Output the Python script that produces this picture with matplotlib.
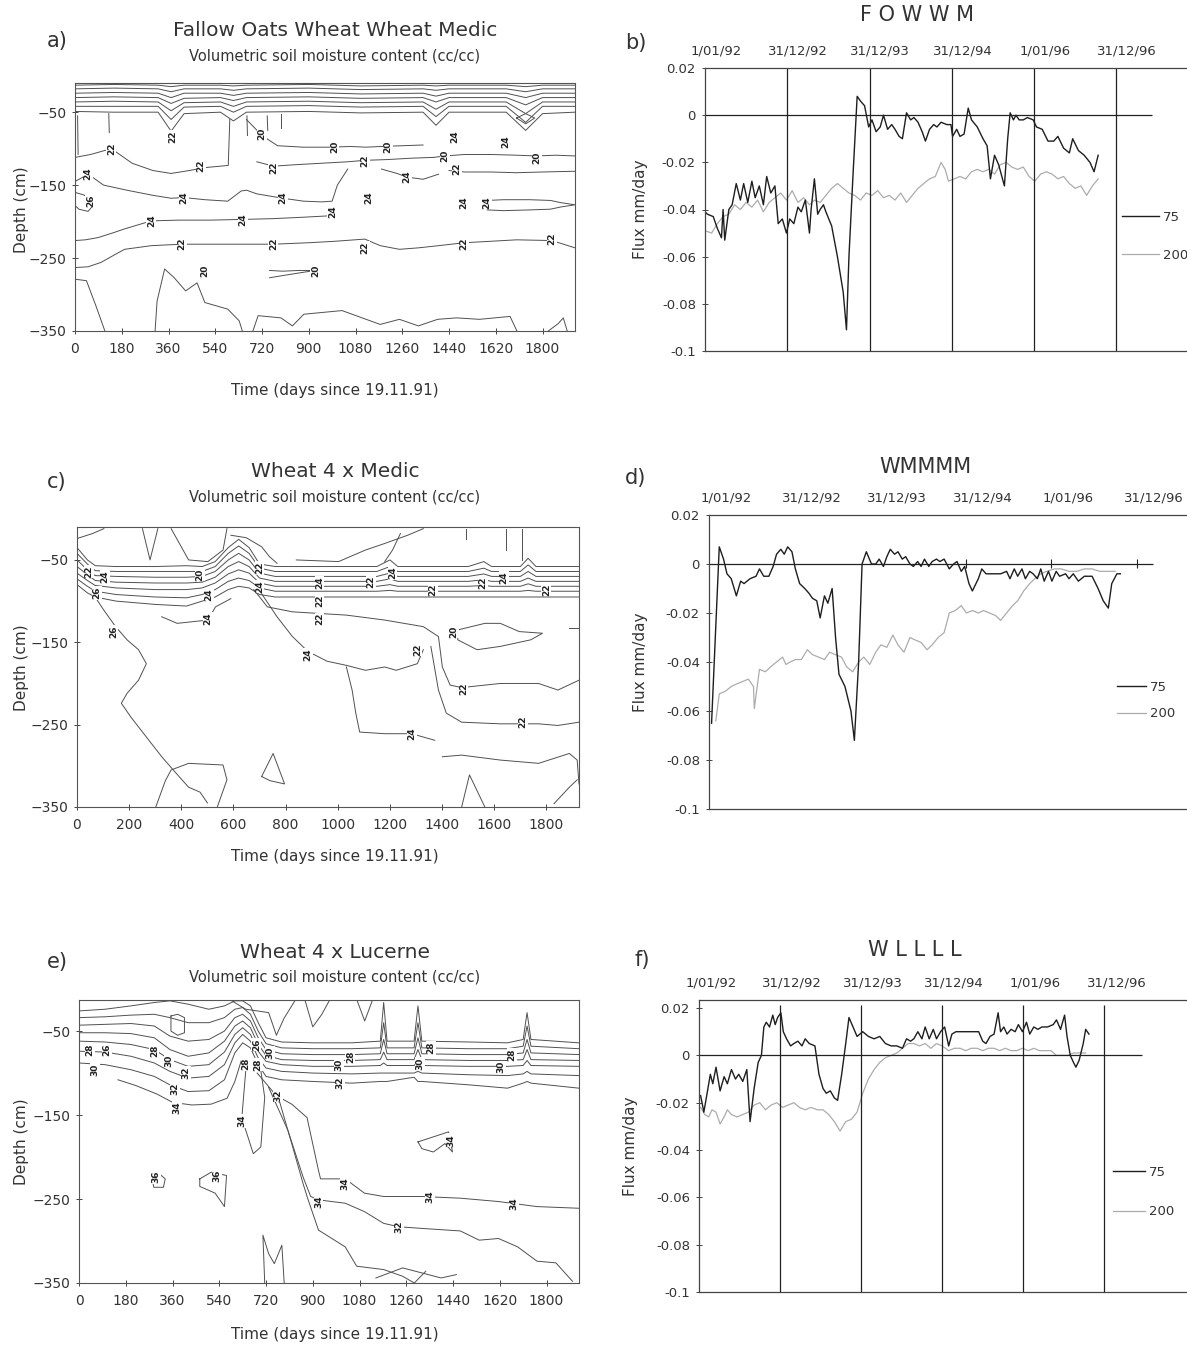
import numpy as np
import matplotlib.pyplot as plt
from matplotlib.ticker import FuncFormatter

plt.rcParams['font.family'] = ['DejaVu Sans']

W, H = 1187, 1347

# ---------------- a) Fallow Oats Wheat Wheat Medic : isolines (day, depth cm) ----------------
a_band_t = [0, 150, 320, 370, 420, 560, 610, 660, 900, 1100, 1340, 1390, 1440, 1660, 1735, 1800, 1925]
a_band = [
    [-13, -12, -13, -15, -13, -13, -14, -13, -12, -14, -13, -14, -13, -13, -15, -13, -13],
    [-18, -17, -18, -22, -18, -18, -20, -18, -17, -19, -18, -20, -18, -18, -22, -18, -18],
    [-24, -23, -24, -30, -24, -24, -27, -24, -23, -25, -24, -28, -24, -24, -30, -24, -24],
    [-30, -29, -30, -38, -31, -30, -34, -30, -29, -31, -30, -36, -30, -30, -40, -30, -30],
    [-36, -35, -36, -48, -37, -36, -42, -36, -35, -37, -36, -46, -36, -36, -52, -36, -36],
    [-42, -42, -42, -60, -43, -42, -50, -42, -41, -43, -42, -56, -42, -42, -64, -42, -42],
    [-49, -50, -50, -76, -52, -50, -62, -50, -49, -51, -50, -68, -50, -50, -75, -52, -50],
]
a_lines = [
    ([0, 60, 140, 220, 300, 370, 440, 500, 560, 590, 596], [-112, -108, -100, -120, -130, -134, -130, -126, -124, -123, -60]),
    ([660, 720, 780, 880, 990, 1060, 1120, 1180, 1260, 1340], [-60, -82, -96, -98, -98, -97, -98, -97, -96, -95]),
    ([700, 764, 850, 950, 1050, 1116, 1200, 1300, 1380], [-118, -124, -122, -120, -118, -116, -115, -113, -112]),
    ([1380, 1425, 1500, 1600, 1700, 1777, 1850, 1925], [-112, -110, -108, -108, -109, -110, -109, -110]),
    ([1440, 1500, 1600, 1700, 1800, 1925], [-130, -132, -132, -133, -132, -131]),
    ([0, 51, 110, 200, 300, 370, 419, 500, 588, 640, 661, 700, 800, 880, 950, 990, 1010, 1050],
     [-145, -135, -150, -157, -164, -168, -167, -170, -172, -158, -157, -162, -168, -172, -173, -172, -150, -128]),
    ([1180, 1240, 1278, 1340, 1400], [-128, -134, -139, -142, -135]),
    ([0, 30, 60, 70, 50, 15, 0], [-160, -163, -168, -178, -186, -183, -178]),
    ([0, 40, 88, 150, 191, 294, 400, 520, 646, 760, 880, 984], [-226, -225, -222, -215, -210, -199, -198, -198, -197, -196, -194, -192]),
    ([0, 50, 100, 150, 191, 294, 411, 550, 650, 764, 900, 1000, 1116, 1175, 1249, 1322, 1400, 1498, 1600, 1700, 1836, 1925],
     [-263, -262, -256, -246, -238, -233, -231, -231, -231, -231, -229, -227, -224, -233, -238, -236, -233, -229, -227, -225, -226, -236]),
    ([1587, 1650, 1750, 1830, 1870, 1925, 1870, 1830, 1750, 1650, 1587], [-171, -170, -170, -171, -174, -177, -180, -183, -184, -185, -184]),
    ([749, 800, 860, 925, 870, 800, 749], [-267, -268, -267, -267, -270, -274, -277]),
    ([0, 44, 80, 117], [-279, -281, -315, -352]),
    ([308, 316, 345, 382, 426, 470, 500, 588, 632, 646], [-352, -309, -265, -277, -295, -284, -311, -320, -336, -352]),
    ([683, 705, 793, 837, 881, 1028, 1175, 1249, 1322, 1396, 1469, 1557, 1675, 1704],
     [-352, -329, -332, -343, -327, -322, -341, -334, -343, -334, -332, -334, -330, -352]),
    ([1822, 1860, 1880, 1895], [-350, -340, -332, -350]),
    ([1700, 1735, 1770, 1735, 1700], [-58, -52, -58, -66, -58]),
    ([130, 132], [-52, -78]), ([662, 664], [-55, -82]), ([740, 742], [-55, -75]),
    ([795, 795], [-52, -72]), ([10, 12], [-55, -108]),
]
a_labels = [
    ("22", 375, -84), ("22", 140, -100), ("22", 485, -123), ("22", 764, -126),
    ("20", 720, -80), ("20", 999, -98), ("20", 1205, -98), ("24", 1462, -84), ("24", 1660, -91),
    ("22", 1116, -116), ("20", 1425, -110), ("22", 1469, -128), ("20", 1777, -112),
    ("24", 1278, -139), ("24", 51, -135), ("26", 59, -171), ("24", 419, -167), ("24", 800, -167),
    ("24", 1131, -167), ("24", 294, -199), ("24", 646, -197), ("24", 991, -187),
    ("24", 1498, -174), ("24", 1587, -174), ("22", 411, -231), ("22", 764, -231),
    ("22", 1116, -236), ("22", 1498, -231), ("22", 1836, -224), ("20", 500, -268), ("20", 925, -268),
]

# ---------------- c) Wheat 4 x Medic ----------------
c_band_t = [0, 40, 70, 150, 300, 420, 480, 530, 580, 620, 660, 700, 760, 900, 1150, 1200, 1230, 1500, 1560, 1590, 1700, 1730, 1760, 1925]
c_band = [
    [-35, -50, -57, -58, -58, -57, -58, -52, -35, -25, -35, -55, -58, -58, -58, -50, -58, -58, -52, -58, -58, -48, -58, -58],
    [-42, -55, -63, -64, -64, -64, -64, -58, -42, -33, -42, -60, -64, -64, -64, -58, -64, -64, -60, -64, -64, -56, -64, -64],
    [-50, -62, -69, -70, -71, -71, -70, -64, -50, -42, -50, -66, -70, -70, -70, -66, -70, -70, -67, -70, -70, -64, -70, -70],
    [-58, -68, -75, -77, -78, -78, -77, -71, -58, -52, -58, -72, -76, -76, -76, -73, -76, -76, -74, -76, -76, -72, -76, -76],
    [-66, -75, -81, -84, -86, -86, -84, -78, -67, -62, -66, -78, -82, -82, -82, -80, -82, -82, -81, -82, -82, -79, -82, -82],
    [-73, -82, -88, -92, -95, -96, -92, -86, -76, -72, -75, -84, -88, -88, -88, -87, -88, -88, -88, -88, -88, -87, -88, -88],
    [-80, -90, -95, -100, -104, -106, -100, -95, -86, -82, -84, -92, -95, -95, -95, -95, -95, -95, -95, -95, -95, -95, -95, -95],
]
c_lines = [
    ([0, 59, 103], [-24, -18, -12]),
    ([251, 280, 310], [-12, -50, -12]),
    ([361, 428, 502, 560, 575], [-12, -50, -52, -38, -12]),
    ([590, 649, 708, 738, 767], [-20, -23, -34, -46, -54]),
    ([841, 1003, 1106, 1180, 1268, 1328], [-50, -52, -38, -30, -20, -12]),
    ([1180, 1210, 1240], [-52, -38, -18]),
    ([1490, 1490], [-12, -25]), ([1645, 1645], [-12, -38]), ([1705, 1705], [-12, -50]),
    ([59, 103, 148, 192, 236, 266, 236, 192, 170, 207, 266, 325, 369, 428, 472, 500],
     [-90, -111, -131, -147, -159, -176, -196, -212, -224, -241, -265, -289, -305, -326, -332, -345]),
    ([302, 339, 361, 428, 560, 575, 538], [-350, -318, -305, -297, -299, -317, -350]),
    ([708, 752, 796, 740, 708], [-313, -285, -322, -318, -313]),
    ([325, 384, 443, 502, 531, 590], [-119, -127, -125, -123, -107, -97]),
    ([678, 730, 826, 929, 1033, 1180, 1328, 1386, 1401, 1431, 1475, 1623, 1770, 1844, 1925],
     [-86, -107, -113, -115, -117, -123, -131, -143, -180, -202, -205, -200, -200, -208, -196]),
    ([708, 767, 826, 885, 959, 1033, 1106, 1180, 1224, 1305, 1328], [-91, -119, -143, -161, -173, -178, -184, -180, -184, -176, -159]),
    ([1033, 1055, 1069, 1084, 1180, 1283, 1372], [-180, -208, -236, -259, -261, -261, -269]),
    ([1357, 1386, 1416, 1475, 1623, 1711, 1770, 1844, 1925], [-155, -208, -236, -247, -249, -249, -249, -251, -247]),
    ([1460, 1564, 1623, 1696, 1785, 1740, 1623, 1534, 1460, 1460], [-135, -127, -127, -137, -139, -147, -155, -159, -147, -135]),
    ([1888, 1925], [-133, -133]),
    ([1401, 1475, 1623, 1770, 1888, 1918, 1925], [-289, -287, -293, -297, -285, -293, -322]),
    ([1475, 1505, 1564], [-350, -311, -350]),
    ([1829, 1888, 1918], [-346, -326, -317]),
]
c_labels = [
    ("22", 45, -64), ("26", 75, -90), ("24", 108, -70), ("26", 140, -137),
    ("20", 470, -68), ("24", 505, -92), ("24", 502, -121),
    ("22", 700, -60), ("24", 700, -82), ("24", 930, -78), ("22", 930, -100), ("22", 930, -122),
    ("22", 1128, -76), ("24", 1210, -66), ("22", 1364, -86), ("22", 1556, -78), ("24", 1637, -72), ("22", 1800, -86),
    ("24", 885, -165), ("20", 1445, -137), ("22", 1305, -159), ("22", 1482, -206), ("22", 1711, -247), ("24", 1283, -261),
]

# ---------------- e) Wheat 4 x Lucerne ----------------
e_band_t = [0, 100, 200, 290, 350, 420, 500, 560, 600, 630, 660, 690, 720, 780, 900, 1050, 1160, 1173, 1186, 1290, 1305, 1320, 1500, 1650, 1710, 1725, 1740, 1925]
e_band = [
    [-26, -24, -20, -16, -14, -18, -24, -20, -14, -14, -20, -40, -58, -63, -64, -64, -62, -16, -62, -62, -20, -62, -63, -64, -60, -28, -60, -64],
    [-34, -33, -31, -30, -34, -40, -40, -34, -24, -22, -30, -50, -65, -70, -71, -71, -70, -40, -70, -70, -40, -70, -71, -71, -68, -44, -68, -71],
    [-43, -42, -41, -44, -56, -62, -60, -50, -34, -30, -38, -58, -72, -77, -78, -78, -77, -60, -77, -77, -58, -77, -78, -78, -76, -60, -76, -78],
    [-52, -52, -53, -58, -72, -80, -76, -62, -44, -38, -46, -66, -79, -84, -85, -85, -84, -75, -84, -84, -72, -84, -85, -85, -84, -72, -84, -85],
    [-62, -63, -66, -72, -84, -92, -90, -75, -54, -46, -54, -74, -86, -90, -92, -92, -91, -88, -91, -91, -86, -91, -92, -92, -91, -85, -91, -92],
    [-74, -75, -80, -88, -98, -106, -104, -90, -64, -54, -62, -82, -94, -98, -100, -101, -100, -100, -100, -100, -98, -100, -102, -103, -101, -98, -101, -103],
    [-88, -90, -96, -104, -114, -122, -121, -108, -76, -64, -70, -90, -104, -108, -110, -112, -110, -110, -110, -105, -110, -110, -114, -118, -112, -110, -112, -118],
]
e_lines = [
    ([150, 220, 300, 361, 435, 509, 570, 600, 625], [-108, -115, -125, -135, -138, -137, -130, -110, -85]),
    ([354, 380, 406, 406, 380, 354, 354], [-32, -30, -34, -52, -55, -50, -32]),
    ([583, 642, 730, 760, 789, 833], [-13, -24, -28, -55, -35, -13]),
    ([870, 900, 935, 965], [-13, -45, -30, -13]),
    ([1070, 1100, 1130], [-13, -38, -13]),
    ([686, 760, 819, 878, 922, 930, 1025, 1099, 1173, 1320, 1468, 1615, 1763, 1925],
     [-100, -127, -137, -153, -216, -226, -226, -243, -247, -247, -249, -253, -259, -261]),
    ([730, 804, 863, 892, 922, 1025, 1099, 1173, 1231, 1320, 1468, 1541, 1615, 1689, 1763, 1836, 1900],
     [-117, -168, -224, -247, -251, -255, -265, -279, -283, -285, -288, -299, -297, -307, -324, -326, -348]),
    ([760, 819, 863, 878, 922, 1025, 1069, 1173, 1246, 1291], [-121, -184, -232, -247, -287, -307, -330, -334, -342, -350]),
    ([642, 627, 642, 671, 700, 715, 700], [-97, -153, -168, -196, -188, -129, -97]),
    ([280, 302, 332, 325, 288, 280], [-224, -218, -226, -236, -236, -224]),
    ([465, 509, 568, 560, 524, 465, 465], [-226, -218, -222, -259, -243, -235, -226]),
    ([1305, 1364, 1423, 1438, 1409, 1364, 1320, 1305], [-182, -176, -170, -194, -184, -194, -190, -182]),
    ([715, 708, 730, 752, 781, 790], [-350, -293, -315, -327, -305, -350]),
    ([1143, 1246, 1320, 1394, 1453], [-344, -332, -338, -344, -340]),
    ([1291, 1335], [-350, -336]),
]
e_labels = [
    ("28", 42, -72), ("30", 60, -96), ("26", 108, -72), ("28", 290, -74), ("30", 345, -86),
    ("32", 413, -100), ("32", 369, -119), ("34", 378, -141), ("28", 642, -89), ("26", 683, -66),
    ("28", 690, -90), ("30", 735, -76), ("32", 767, -127), ("34", 627, -157),
    ("28", 1045, -80), ("30", 1000, -90), ("32", 1004, -112), ("30", 1313, -89), ("28", 1355, -70),
    ("30", 1623, -93), ("28", 1667, -78), ("34", 1431, -180), ("36", 295, -224), ("36", 531, -222),
    ("34", 922, -253), ("34", 1025, -232), ("32", 1231, -283), ("34", 1350, -247), ("34", 1674, -255),
]

# ---------------- flux series (years since 1/01/92, mm/day) ----------------
date_labels = ["1/01/92", "31/12/92", "31/12/93", "31/12/94", "1/01/96", "31/12/96"]
year_marks = [0, 1, 2, 3, 4, 5]

b_yr75 = [0.00, 0.03, 0.10, 0.15, 0.20, 0.22, 0.24, 0.29, 0.33, 0.38, 0.43, 0.47, 0.52, 0.57, 0.61, 0.66, 0.71, 0.75, 0.80, 0.85,
          0.89, 0.94, 0.99, 1.03, 1.08, 1.13, 1.17, 1.22, 1.27, 1.29, 1.33, 1.37, 1.40, 1.44, 1.47, 1.54, 1.61, 1.68, 1.72, 1.75,
          1.80, 1.85, 1.89, 1.94, 1.99, 2.03, 2.08, 2.13, 2.17, 2.22, 2.27, 2.31, 2.36, 2.40, 2.45, 2.50, 2.54, 2.59, 2.64, 2.68,
          2.73, 2.78, 2.82, 2.87, 2.94, 2.99, 3.01, 3.06, 3.10, 3.15, 3.20, 3.24, 3.31, 3.38, 3.43, 3.47, 3.52, 3.57, 3.64, 3.68,
          3.71, 3.75, 3.78, 3.82, 3.87, 3.92, 3.99, 4.03, 4.10, 4.17, 4.24, 4.29, 4.36, 4.43, 4.47, 4.54, 4.61, 4.68, 4.73, 4.78]
b_f75 = [-0.041, -0.042, -0.043, -0.048, -0.052, -0.040, -0.053, -0.040, -0.038, -0.029,
         -0.036, -0.029, -0.037, -0.028, -0.035, -0.030, -0.038, -0.026, -0.033, -0.030,
         -0.046, -0.044, -0.050, -0.044, -0.046, -0.039, -0.041, -0.036, -0.050, -0.040,
         -0.027, -0.042, -0.040, -0.038, -0.041, -0.047, -0.060, -0.075, -0.091, -0.060,
         -0.025, 0.008, 0.006, 0.004, -0.005, -0.002, -0.007, -0.005, 0.000, -0.006,
         -0.004, -0.006, -0.009, -0.010, 0.001, -0.002, -0.001, -0.003, -0.007, -0.011,
         -0.006, -0.004, -0.005, -0.003, -0.004, -0.004, -0.009, -0.006, -0.009, -0.008,
         0.003, -0.002, -0.005, -0.010, -0.013, -0.027, -0.017, -0.021, -0.030, -0.010,
         0.001, -0.002, 0.000, -0.002, -0.002, -0.001, -0.002, -0.005, -0.006, -0.011,
         -0.011, -0.009, -0.014, -0.016, -0.010, -0.015, -0.017, -0.020, -0.024, -0.017]
b_yr200 = [0.00, 0.08, 0.15, 0.22, 0.29, 0.36, 0.43, 0.50, 0.57, 0.64, 0.71, 0.78, 0.85, 0.92, 0.99, 1.06, 1.13, 1.20, 1.27, 1.33,
           1.40, 1.47, 1.54, 1.61, 1.68, 1.75, 1.82, 1.89, 1.96, 2.03, 2.10, 2.17, 2.24, 2.31, 2.38, 2.45, 2.52, 2.59, 2.66, 2.73,
           2.80, 2.87, 2.92, 2.96, 3.03, 3.10, 3.17, 3.24, 3.31, 3.38, 3.45, 3.52, 3.59, 3.66, 3.73, 3.80, 3.87, 3.94, 4.01, 4.08,
           4.15, 4.22, 4.29, 4.36, 4.43, 4.50, 4.57, 4.64, 4.71, 4.78]
b_f200 = [-0.049, -0.050, -0.046, -0.043, -0.042, -0.038, -0.040, -0.037, -0.039, -0.036,
          -0.041, -0.037, -0.035, -0.033, -0.036, -0.032, -0.037, -0.035, -0.038, -0.036,
          -0.037, -0.034, -0.031, -0.029, -0.031, -0.033, -0.034, -0.036, -0.033, -0.034,
          -0.032, -0.035, -0.034, -0.036, -0.033, -0.037, -0.034, -0.031, -0.029, -0.027,
          -0.026, -0.020, -0.023, -0.028, -0.027, -0.026, -0.027, -0.024, -0.023, -0.024,
          -0.023, -0.025, -0.021, -0.020, -0.022, -0.023, -0.022, -0.026, -0.028, -0.025,
          -0.024, -0.025, -0.027, -0.026, -0.029, -0.031, -0.030, -0.034, -0.030, -0.027]

d_yr75 = [0.03, 0.12, 0.17, 0.21, 0.26, 0.32, 0.37, 0.41, 0.48, 0.55, 0.59, 0.64, 0.70, 0.75, 0.79, 0.84, 0.88, 0.92, 0.97, 1.01,
          1.06, 1.12, 1.17, 1.21, 1.26, 1.30, 1.35, 1.39, 1.44, 1.48, 1.52, 1.59, 1.66, 1.70, 1.75, 1.79, 1.84, 1.90, 1.95, 1.99,
          2.04, 2.08, 2.12, 2.17, 2.21, 2.26, 2.30, 2.35, 2.39, 2.44, 2.48, 2.52, 2.57, 2.61, 2.66, 2.70, 2.75, 2.81, 2.86, 2.90,
          2.95, 2.99, 3.04, 3.08, 3.15, 3.19, 3.24, 3.32, 3.41, 3.48, 3.52, 3.57, 3.61, 3.66, 3.70, 3.75, 3.79, 3.84, 3.88, 3.92,
          3.97, 4.01, 4.06, 4.10, 4.17, 4.21, 4.26, 4.32, 4.39, 4.48, 4.55, 4.61, 4.67, 4.71, 4.77, 4.81]
d_f75 = [-0.065, 0.007, 0.002, -0.004, -0.006, -0.013, -0.007, -0.008, -0.006, -0.005,
         -0.002, -0.005, -0.005, -0.001, 0.004, 0.006, 0.004, 0.007, 0.005, -0.002,
         -0.008, -0.010, -0.012, -0.014, -0.015, -0.022, -0.013, -0.016, -0.010, -0.030,
         -0.045, -0.050, -0.060, -0.072, -0.040, 0.000, 0.005, 0.000, 0.000, 0.002,
         -0.001, 0.003, 0.006, 0.004, 0.005, 0.002, 0.003, 0.000, -0.001, 0.001,
         -0.001, 0.002, -0.001, 0.001, 0.002, 0.001, 0.002, -0.002, 0.000, 0.001,
         -0.003, -0.001, -0.008, -0.011, -0.006, -0.002, -0.004, -0.004, -0.004, -0.003,
         -0.006, -0.002, -0.005, -0.002, -0.006, -0.003, -0.004, -0.006, -0.002, -0.007,
         -0.003, -0.007, -0.003, -0.005, -0.004, -0.006, -0.004, -0.007, -0.005, -0.005,
         -0.010, -0.015, -0.018, -0.008, -0.004, -0.004]
d_yr200 = [0.08, 0.12, 0.19, 0.26, 0.32, 0.39, 0.46, 0.52, 0.53, 0.59, 0.66, 0.72, 0.79, 0.86, 0.90, 0.95, 1.01, 1.08, 1.15, 1.21,
           1.28, 1.35, 1.41, 1.48, 1.55, 1.61, 1.68, 1.75, 1.81, 1.88, 1.95, 2.01, 2.08, 2.15, 2.21, 2.28, 2.35, 2.41, 2.48, 2.55,
           2.61, 2.68, 2.75, 2.81, 2.88, 2.95, 3.01, 3.08, 3.15, 3.21, 3.28, 3.35, 3.41, 3.48, 3.55, 3.61, 3.68, 3.75, 3.81, 3.88,
           3.95, 4.04, 4.12, 4.21, 4.30, 4.39, 4.48, 4.57, 4.66, 4.75]
d_f200 = [-0.064, -0.053, -0.052, -0.050, -0.049, -0.048, -0.047, -0.050, -0.059, -0.043,
          -0.044, -0.042, -0.040, -0.038, -0.041, -0.040, -0.039, -0.039, -0.035, -0.037,
          -0.038, -0.039, -0.036, -0.037, -0.038, -0.042, -0.044, -0.040, -0.038, -0.041,
          -0.036, -0.033, -0.034, -0.029, -0.033, -0.036, -0.030, -0.031, -0.032, -0.035,
          -0.033, -0.030, -0.028, -0.020, -0.019, -0.017, -0.020, -0.019, -0.020, -0.019,
          -0.020, -0.021, -0.023, -0.020, -0.017, -0.015, -0.011, -0.008, -0.006, -0.004,
          -0.003, -0.002, -0.002, -0.003, -0.003, -0.002, -0.002, -0.003, -0.003, -0.003]

f_yr75 = [0.02, 0.06, 0.09, 0.14, 0.17, 0.21, 0.26, 0.31, 0.35, 0.40, 0.45, 0.49, 0.54, 0.59, 0.63, 0.68, 0.73, 0.77, 0.80, 0.83,
          0.87, 0.91, 0.94, 0.97, 1.01, 1.04, 1.08, 1.13, 1.17, 1.22, 1.27, 1.31, 1.36, 1.43, 1.48, 1.53, 1.57, 1.62, 1.67, 1.71,
          1.76, 1.81, 1.85, 1.90, 1.95, 2.02, 2.09, 2.16, 2.23, 2.30, 2.37, 2.44, 2.51, 2.56, 2.61, 2.65, 2.70, 2.75, 2.79, 2.84,
          2.89, 2.93, 2.98, 3.03, 3.08, 3.12, 3.17, 3.24, 3.31, 3.38, 3.45, 3.50, 3.54, 3.59, 3.64, 3.69, 3.72, 3.76, 3.80, 3.85,
          3.90, 3.94, 3.99, 4.04, 4.08, 4.13, 4.18, 4.23, 4.30, 4.37, 4.41, 4.46, 4.51, 4.54, 4.58, 4.62, 4.65, 4.69, 4.74, 4.77, 4.81]
f_f75 = [-0.017, -0.024, -0.018, -0.008, -0.012, -0.005, -0.015, -0.009, -0.012, -0.006,
         -0.010, -0.008, -0.011, -0.006, -0.028, -0.014, -0.003, 0.000, 0.012, 0.014,
         0.012, 0.017, 0.013, 0.016, 0.018, 0.010, 0.007, 0.004, 0.005, 0.006,
         0.004, 0.007, 0.005, 0.004, -0.008, -0.014, -0.016, -0.015, -0.018, -0.019,
         -0.008, 0.005, 0.016, 0.012, 0.008, 0.010, 0.008, 0.007, 0.008, 0.005,
         0.004, 0.004, 0.003, 0.007, 0.006, 0.007, 0.010, 0.007, 0.012, 0.007,
         0.011, 0.007, 0.010, 0.012, 0.004, 0.009, 0.010, 0.010, 0.010, 0.010,
         0.010, 0.006, 0.005, 0.008, 0.009, 0.018, 0.010, 0.012, 0.009, 0.011,
         0.010, 0.013, 0.010, 0.014, 0.009, 0.012, 0.011, 0.012, 0.012, 0.013,
         0.015, 0.011, 0.017, 0.008, 0.000, -0.003, -0.005, -0.002, 0.005, 0.011, 0.009]
f_yr200 = [0.02, 0.07, 0.12, 0.16, 0.21, 0.26, 0.31, 0.35, 0.40, 0.47, 0.54, 0.61, 0.68, 0.75, 0.82, 0.89, 0.96, 1.03, 1.10, 1.17,
           1.24, 1.31, 1.38, 1.46, 1.53, 1.60, 1.67, 1.74, 1.81, 1.88, 1.95, 2.02, 2.09, 2.16, 2.23, 2.30, 2.37, 2.44, 2.51, 2.58,
           2.65, 2.72, 2.79, 2.86, 2.93, 3.00, 3.08, 3.15, 3.22, 3.29, 3.36, 3.43, 3.50, 3.57, 3.64, 3.71, 3.78, 3.85, 3.92, 3.99,
           4.06, 4.13, 4.20, 4.27, 4.34, 4.41, 4.48, 4.55, 4.62, 4.69, 4.77]
f_f200 = [-0.022, -0.025, -0.026, -0.023, -0.024, -0.029, -0.026, -0.023, -0.025, -0.026,
          -0.025, -0.024, -0.021, -0.020, -0.023, -0.021, -0.020, -0.022, -0.021, -0.020,
          -0.022, -0.023, -0.022, -0.023, -0.023, -0.025, -0.028, -0.032, -0.028, -0.027,
          -0.024, -0.016, -0.010, -0.006, -0.003, -0.001, 0.000, 0.001, 0.003, 0.005,
          0.005, 0.004, 0.005, 0.003, 0.005, 0.004, 0.002, 0.003, 0.003, 0.002,
          0.003, 0.003, 0.002, 0.003, 0.003, 0.002, 0.003, 0.002, 0.002, 0.003,
          0.002, 0.003, 0.002, 0.002, 0.002, 0.000, 0.000, 0.000, 0.001, 0.001, 0.001]

flux_ticks = [0.02, 0, -0.02, -0.04, -0.06, -0.08, -0.1]

LINE = '#505050'
TXT = '#333333'


def px(x, y):
    return x / W, 1 - y / H


def box(l, t, r, b):
    return [l / W, 1 - b / H, (r - l) / W, (b - t) / H]


fig = plt.figure(figsize=(W / 100, H / 100), dpi=100)
fig.patch.set_facecolor('white')


def contour_panel(rect, band_t, band, lines, labels, xticks, ytop, title, letter, ty, cx=335):
    ax = fig.add_axes(rect)
    for d in band:
        ax.plot(band_t, d, color=LINE, lw=0.7)
    for t, d in lines:
        ax.plot(t, d, color=LINE, lw=0.7)
    for s, t, d in labels:
        ax.text(t, d, s, rotation=90, fontsize=6.5, fontweight='bold', color='#222222',
                ha='center', va='center', clip_on=True,
                bbox=dict(facecolor='white', edgecolor='none', pad=0.3))
    ax.set_xlim(0, 1925)
    ax.set_ylim(-350, ytop)
    ax.set_xticks(xticks)
    ax.set_yticks([-50, -150, -250, -350])
    ax.tick_params(direction='inout', length=4, width=0.7, colors='#444444',
                   labelcolor=TXT, labelsize=10, pad=4)
    ax.tick_params(axis='x', pad=6)
    for s in ax.spines.values():
        s.set_color('#555555')
        s.set_linewidth(0.8)
    fig.text(*px(cx, ty), title, ha='center', va='center', fontsize=14.5, color=TXT)
    fig.text(*px(cx, ty + 25), 'Volumetric soil moisture content (cc/cc)', ha='center', va='center',
             fontsize=10.5, color=TXT)
    fig.text(*px(57, ty + 10), letter, ha='center', va='center', fontsize=15, color=TXT)
    return ax


ax_a = contour_panel(box(75, 83, 575, 331), a_band_t, a_band, a_lines, a_labels,
                     [0, 180, 360, 540, 720, 900, 1080, 1260, 1440, 1620, 1800], -10,
                     'Fallow Oats Wheat Wheat Medic', 'a)', 31)
fig.text(*px(335, 390), 'Time (days since 19.11.91)', ha='center', va='center', fontsize=11, color=TXT)
fig.text(*px(22, 210), 'Depth (cm)', rotation=90, ha='center', va='center', fontsize=11, color=TXT)

ax_c = contour_panel(box(77, 527, 579, 807), c_band_t, c_band, c_lines, c_labels,
                     [0, 200, 400, 600, 800, 1000, 1200, 1400, 1600, 1800], -10,
                     'Wheat 4 x Medic', 'c)', 472)
fig.text(*px(335, 856), 'Time (days since 19.11.91)', ha='center', va='center', fontsize=11, color=TXT)
fig.text(*px(22, 668), 'Depth (cm)', rotation=90, ha='center', va='center', fontsize=11, color=TXT)

ax_e = contour_panel(box(79, 1000, 579, 1283), e_band_t, e_band, e_lines, e_labels,
                     [0, 180, 360, 540, 720, 900, 1080, 1260, 1440, 1620, 1800], -13,
                     'Wheat 4 x Lucerne', 'e)', 952)
fig.text(*px(335, 1335), 'Time (days since 19.11.91)', ha='center', va='center', fontsize=11, color=TXT)
fig.text(*px(22, 1142), 'Depth (cm)', rotation=90, ha='center', va='center', fontsize=11, color=TXT)


def rect_top(rect):
    return (1 - rect[1] - rect[3]) * H


def rect_bot(rect):
    return (1 - rect[1]) * H


def flux_panel(rect, xmax, ytop, yr75, f75, yr200, f200, zero_end, title, tpos, letter, lpos,
               ylab_x, date_off, leg_xy, leg_space, leg_len, year_lines, line_top):
    ax = fig.add_axes(rect)
    l200, = ax.plot(yr200, f200, color='#acacac', lw=0.9)
    l75, = ax.plot(yr75, f75, color='#1e1e1e', lw=1.0)
    ax.hlines(0, 0, zero_end, color='#222222', lw=0.9)
    if year_lines == 'full':
        ax.vlines(year_marks[1:], -0.1, line_top, color='#222222', lw=0.9)
    else:
        ax.vlines(year_marks[3:], -0.0018, 0.0022, color='#222222', lw=0.8)
    ax.set_xlim(0, xmax)
    ax.set_ylim(-0.1, ytop)
    ax.set_xticks([])
    ax.set_yticks(flux_ticks)
    ax.yaxis.set_major_formatter(FuncFormatter(lambda v, p: '0' if abs(v) < 1e-9 else '%g' % v))
    ax.tick_params(axis='y', direction='inout', length=5, width=0.7, colors='#444444',
                   labelcolor=TXT, labelsize=9.5, pad=4)
    ax.spines['right'].set_visible(False)
    for s in ['left', 'top', 'bottom']:
        ax.spines[s].set_color('#444444')
        ax.spines[s].set_linewidth(0.9)
    for yr, lab in zip(year_marks, date_labels):
        ax.annotate(lab, xy=(yr + date_off, 1), xycoords=('data', 'axes fraction'),
                    xytext=(0, 12), textcoords='offset points', ha='center', va='center',
                    fontsize=9.5, color=TXT)
    fig.text(*px(*tpos), title, ha='center', va='center', fontsize=15, color=TXT)
    fig.text(*px(*lpos), letter, ha='center', va='center', fontsize=15, color=TXT)
    fig.text(*px(ylab_x, (rect_top(rect) + rect_bot(rect)) / 2), 'Flux mm/day', rotation=90,
             ha='center', va='center', fontsize=11, color=TXT)
    ax.legend([l75, l200], ['75', '200'], loc='upper left', bbox_to_anchor=px(*leg_xy),
              bbox_transform=fig.transFigure, frameon=False, borderpad=0, borderaxespad=0,
              handlelength=leg_len, handletextpad=0.3, labelspacing=leg_space, fontsize=9.5,
              labelcolor=TXT)
    return ax


flux_panel(box(705, 68, 1187, 351), 5.86, 0.02, b_yr75, b_f75, b_yr200, b_f200, 5.43,
           'F O W W M', (917, 15), 'b)', (636, 43), 641, 0.13, (1122, 211), 1.9, 2.8, 'full', 0.02)
flux_panel(box(709, 515, 1187, 809), 5.59, 0.02, d_yr75, d_f75, d_yr200, d_f200, 5.19,
           'WMMMM', (925, 467), 'd)', (636, 478), 641, 0.2, (1117, 681), 1.0, 2.2, 'ticks', 0.02)
flux_panel(box(699, 1000, 1187, 1292), 6.02, 0.0234, f_yr75, f_f75, f_yr200, f_f200, 5.47,
           'W L L L L', (915, 950), 'f)', (642, 960), 630, 0.15, (1113, 1166), 2.0, 2.4, 'full', 0.0212)

fig.savefig('out.png', dpi=100, facecolor='white')
